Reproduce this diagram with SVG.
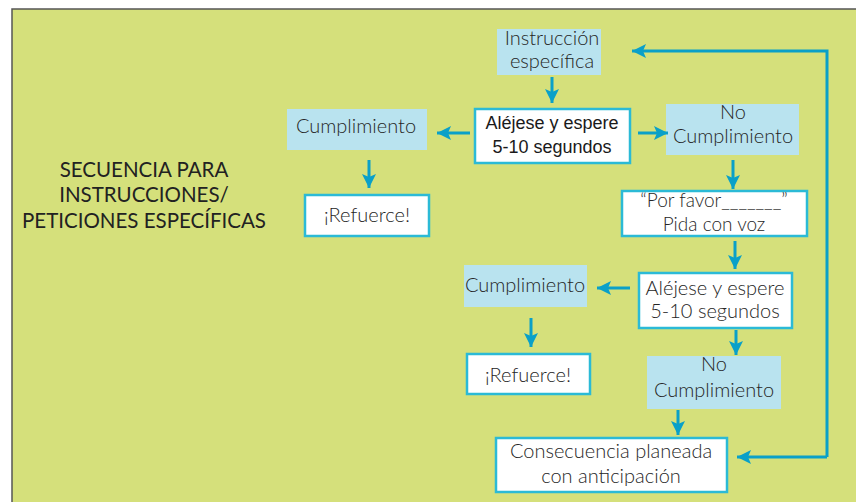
<svg xmlns="http://www.w3.org/2000/svg" width="856" height="502" viewBox="0 0 856 502">
<style>
.blue{fill:#b9e3ef}
.white{fill:#ffffff;stroke:#2bbad6;stroke-width:2.5}
.g{font-family:Lato,"Open Sans","Liberation Sans",sans-serif;font-size:20px;font-weight:300;fill:#262626;text-anchor:middle}
.h{font-family:"Liberation Sans",Arial,sans-serif;font-size:18px;fill:#1a1a1a;text-anchor:middle}
.t{font-family:Lato,"Liberation Sans",sans-serif;font-size:20.5px;fill:#222;text-anchor:middle}
.c{fill:none;stroke:#0aa0c8;stroke-width:3}
</style>
<defs>
<marker id="ah" markerUnits="userSpaceOnUse" markerWidth="16" markerHeight="16" refX="14" refY="7" orient="auto">
<path d="M0,0 L14,7 L0,14 L3,7 Z" fill="#0aa0c8"/>
</marker>
</defs>
<rect x="0" y="0" width="856" height="502" fill="#ffffff"/>
<rect x="12" y="9" width="850" height="500" fill="#d5e07b" stroke="#555" stroke-width="1.5"/>
<g id="title">
<text class="t" x="144" y="177">SECUENCIA PARA</text>
<text class="t" x="144" y="202">INSTRUCCIONES/</text>
<text class="t" x="144" y="228">PETICIONES ESPECÍFICAS</text>
</g>
<g id="instruccion">
<rect class="blue" x="497" y="29" width="104" height="46"/>
<text class="g" x="552" y="45">Instrucción</text>
<text class="g" x="552" y="68">específica</text>
</g>
<g id="aleje1">
<rect class="white" x="475" y="109" width="155" height="54"/>
<text class="h" x="552" y="129">Aléjese y espere</text>
<text class="h" x="552" y="153">5-10 segundos</text>
</g>
<g id="cumpl1">
<rect class="blue" x="287" y="109" width="140" height="41"/>
<text class="g" x="356" y="133">Cumplimiento</text>
</g>
<g id="refuerce1">
<rect class="white" x="305" y="195" width="124" height="41"/>
<text class="g" x="367" y="222">¡Refuerce!</text>
</g>
<g id="nocumpl1">
<rect class="blue" x="666" y="104" width="133" height="51"/>
<text class="g" x="733" y="119">No</text>
<text class="g" x="733" y="143">Cumplimiento</text>
</g>
<g id="porfavor">
<rect class="white" x="622" y="191" width="185" height="45"/>
<text class="g" x="714" y="207" style="font-size:19px">“Por favor_______”</text>
<text class="g" x="714" y="231" style="font-size:19px">Pida con voz</text>
</g>
<g id="aleje2">
<rect class="white" x="639" y="273" width="153" height="55"/>
<text class="g" x="715" y="295">Aléjese y espere</text>
<text class="g" x="715" y="318">5-10 segundos</text>
</g>
<g id="cumpl2">
<rect class="blue" x="464" y="265" width="123" height="42"/>
<text class="g" x="525" y="292">Cumplimiento</text>
</g>
<g id="refuerce2">
<rect class="white" x="467" y="354" width="123" height="40"/>
<text class="g" x="528" y="382">¡Refuerce!</text>
</g>
<g id="nocumpl2">
<rect class="blue" x="647" y="356" width="134" height="53"/>
<text class="g" x="714" y="371">No</text>
<text class="g" x="714" y="397">Cumplimiento</text>
</g>
<g id="consecuencia">
<rect class="white" x="496" y="438" width="231" height="54"/>
<text class="g" x="611" y="458">Consecuencia planeada</text>
<text class="g" x="611" y="483">con anticipación</text>
</g>
<g id="connectors">
<path class="c" d="M552,77 V103" marker-end="url(#ah)"/>
<path class="c" d="M470,133 H437" marker-end="url(#ah)"/>
<path class="c" d="M369,160 V188" marker-end="url(#ah)"/>
<path class="c" d="M638,133 H668" marker-end="url(#ah)"/>
<path class="c" d="M733,160 V189" marker-end="url(#ah)"/>
<path class="c" d="M735,241 V269" marker-end="url(#ah)"/>
<path class="c" d="M630,288 H597" marker-end="url(#ah)"/>
<path class="c" d="M531,318 V347" marker-end="url(#ah)"/>
<path class="c" d="M736,330 V355" marker-end="url(#ah)"/>
<path class="c" d="M678,410 V435" marker-end="url(#ah)"/>
<path class="c" d="M827,457 V51 H632" marker-end="url(#ah)"/>
<path class="c" d="M827,457 H737" marker-end="url(#ah)"/>
</g>
</svg>
